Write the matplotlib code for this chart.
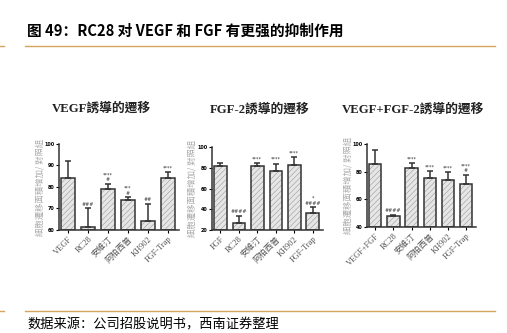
import numpy as np
import matplotlib
matplotlib.use("Agg")
import matplotlib.pyplot as plt

plt.rcParams['font.family'] = ['Liberation Serif', 'Noto Sans CJK TC', 'DejaVu Sans']
plt.rcParams['hatch.linewidth'] = 0.4

# data
titulos = ['VEGF誘導的遷移', 'FGF-2誘導的遷移', 'VEGF+FGF-2誘導的遷移']
rotulos1 = ['VEGF', 'RC28', '安維汀', '阿柏西普', 'KH902', 'FGF-Trap']
rotulos2 = ['FGF', 'RC28', '安維汀', '阿柏西普', 'KH902', 'FGF-Trap']
rotulos3 = ['VEGF+FGF', 'RC28', '安維汀', '阿柏西普', 'KH902', 'FGF-Trap']

media1 = [84.2, 61.5, 79.3, 74.0, 64.2, 84.3]
erro1 = [8.0, 8.5, 2.3, 1.2, 7.8, 2.7]
media2 = [81.3, 26.5, 82.0, 77.0, 82.5, 36.0]
erro2 = [3.7, 7.0, 2.5, 7.0, 7.5, 6.0]
media3 = [85.3, 47.8, 82.6, 75.2, 74.2, 71.0]
erro3 = [10.7, 1.2, 3.4, 5.0, 5.6, 6.6]

sig1 = ['', '###', '****\n#', '***\n#', '##', '****']
sig2 = ['', '####', '****', '****', '****', '*\n####']
sig3 = ['', '####', '****', '****', '****', '****\n#']

ylims = [(60, 100), (20, 100), (40, 100)]
yticks = [[60, 70, 80, 90, 100], [20, 40, 60, 80, 100], [40, 60, 80, 100]]
posicoes = [[0.1164, 0.3093, 0.2367, 0.2583],
            [0.4181, 0.3093, 0.2189, 0.2492],
            [0.7239, 0.3183, 0.2150, 0.2492]]
titulo_y = [0.675, 0.672, 0.672]
titulo_x = [0.2, 0.512, 0.815]

cjk = ['Noto Sans CJK SC', 'DejaVu Sans']
laranja = '#d6a45e'

fig = plt.figure(figsize=(5.07, 3.33), dpi=100)

# cabecalho e rodape
fig.text(27/507, 1-31/333, '图 49：RC28 对 VEGF 和 FGF 有更强的抑制作用', family=cjk,
         fontsize=10.6, fontweight='bold', va='center', ha='left')
fig.add_artist(plt.Line2D([25/507, 495/507], [1-46/333, 1-46/333], color=laranja, lw=1))
fig.add_artist(plt.Line2D([0, 4/507], [1-46/333, 1-46/333], color=laranja, lw=1))
fig.add_artist(plt.Line2D([25/507, 495/507], [1-311/333, 1-311/333], color=laranja, lw=1))
fig.add_artist(plt.Line2D([0, 4/507], [1-311/333, 1-311/333], color=laranja, lw=1))
fig.text(27/507, 1-325/333, '数据来源：公司招股说明书，西南证券整理', family=cjk,
         fontsize=9.5, va='center', ha='left')

dados = [(media1, erro1, sig1, rotulos1), (media2, erro2, sig2, rotulos2),
         (media3, erro3, sig3, rotulos3)]

for i, (media, erro, sig, rotulos) in enumerate(dados):
    ax = fig.add_axes(posicoes[i])
    x = np.arange(len(media))
    base = ylims[i][0]
    alturas = np.array(media) - base
    ax.bar(x, alturas, bottom=base, width=0.68, color='#e6e6e6', edgecolor='#9a9a9a',
           hatch='//////', lw=0, zorder=2)
    ax.bar(x, alturas, bottom=base, width=0.68, fill=False, edgecolor='#333333', lw=1.1, zorder=3)
    ax.errorbar(x, media, yerr=[np.zeros(len(erro)), erro], fmt='none', ecolor='#333333',
                elinewidth=1.1, capsize=2.5, capthick=1.1, zorder=4)
    for xi, m, e, s in zip(x, media, erro, sig):
        if s:
            ax.text(xi, m + e + 0.8*(ylims[i][1]-ylims[i][0])/40, s, ha='center', va='bottom',
                    fontsize=3.5, family='DejaVu Sans', color='#333333', linespacing=0.9)
    ax.set_xlim(-0.45, 5.55)
    ax.set_ylim(*ylims[i])
    ax.set_yticks(yticks[i])
    ax.set_yticklabels([str(t) for t in yticks[i]], fontsize=3.5, family='DejaVu Sans',
                       fontweight='bold')
    ax.set_xticks(x)
    ax.set_xticklabels(rotulos, rotation=45, ha='right', rotation_mode='anchor', fontsize=6,
                       color='#555555')
    ax.tick_params(axis='y', length=2, width=0.8, pad=1)
    ax.tick_params(axis='x', length=2, width=0.8, pad=1.5)
    for lado in ['top', 'right']:
        ax.spines[lado].set_visible(False)
    for lado in ['left', 'bottom']:
        ax.spines[lado].set_linewidth(1.1)
        ax.spines[lado].set_color('#333333')
    ax.set_ylabel('細胞遷移面積增加/ 對照組', family=cjk, fontsize=6, color='#aaaaaa',
                  labelpad=0.5)
    fig.text(titulo_x[i], titulo_y[i], titulos[i], ha='center', va='center', fontsize=9.2,
             fontweight='bold', color='#222222')

fig.savefig('out.png', dpi=100)
